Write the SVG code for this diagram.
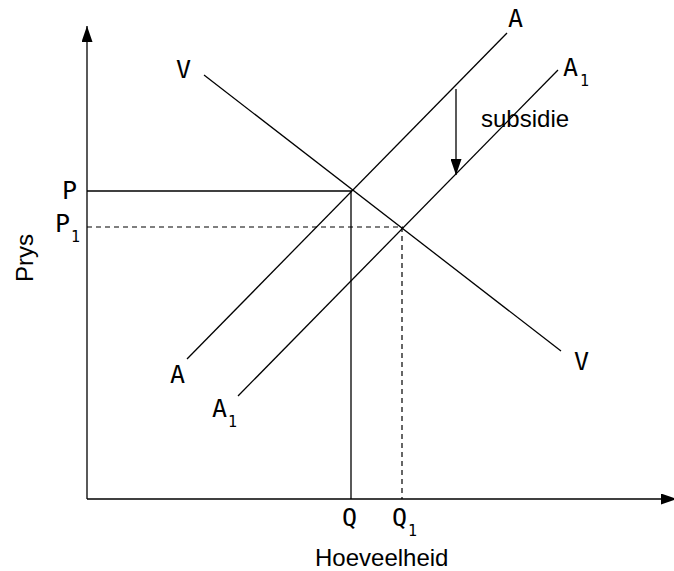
<svg xmlns="http://www.w3.org/2000/svg" width="674" height="571" viewBox="0 0 674 571">
<defs>
<marker id="ahBig" viewBox="0 0 16 11" refX="16" refY="5.5" markerWidth="16" markerHeight="11" markerUnits="userSpaceOnUse" orient="auto">
<path d="M0,0 L16,5.5 L0,11 z" fill="#000"/>
</marker>
</defs>
<style>
.ln{stroke:#000;stroke-width:1.3;fill:none}
.ds{stroke:#000;stroke-width:1.2;fill:none;stroke-dasharray:5 4}
.lb{font-family:"DejaVu Sans Mono","Liberation Mono",monospace;font-size:25px;fill:#000}
.sb{font-family:"DejaVu Sans Mono","Liberation Mono",monospace;font-size:15px;fill:#000}
.tx{font-family:"Liberation Sans",Arial,sans-serif;font-size:24px;fill:#000}
</style>
<rect width="674" height="571" fill="#fff"/>
<g id="connectors">
<line class="ln" x1="87" y1="499" x2="87" y2="26" marker-end="url(#ahBig)"/>
<line class="ln" x1="87" y1="499" x2="677" y2="499" marker-end="url(#ahBig)"/>
<line class="ln" x1="187" y1="359" x2="507" y2="33"/>
<line class="ln" x1="238" y1="396" x2="558" y2="70"/>
<line class="ln" x1="204" y1="75" x2="561" y2="351"/>
<line class="ln" x1="87" y1="191" x2="352" y2="191"/>
<line class="ln" x1="351" y1="191" x2="351" y2="499"/>
<line class="ds" x1="87" y1="227" x2="403" y2="227"/>
<line class="ds" x1="402" y1="227" x2="402" y2="499"/>
<line class="ln" x1="456" y1="89" x2="456" y2="175" marker-end="url(#ahBig)"/>
</g>
<g id="labels">
<text class="lb" x="508" y="27">A</text>
<text class="lb" x="563" y="76">A</text><text class="sb" x="580" y="86">1</text>
<text class="lb" x="176" y="78">V</text>
<text class="lb" x="574" y="370">V</text>
<text class="lb" x="170" y="383">A</text>
<text class="lb" x="212" y="417">A</text><text class="sb" x="228" y="427">1</text>
<text class="lb" x="62" y="199">P</text>
<text class="lb" x="55" y="232">P</text><text class="sb" x="71" y="242">1</text>
<text class="lb" x="342" y="526">Q</text>
<text class="lb" x="392" y="526">Q</text><text class="sb" x="408" y="536">1</text>
<text class="tx" x="315" y="566">Hoeveelheid</text>
<text class="tx" x="481" y="127">subsidie</text>
<text class="tx" transform="translate(33,258) rotate(-90)" text-anchor="middle">Prys</text>
</g>
</svg>
